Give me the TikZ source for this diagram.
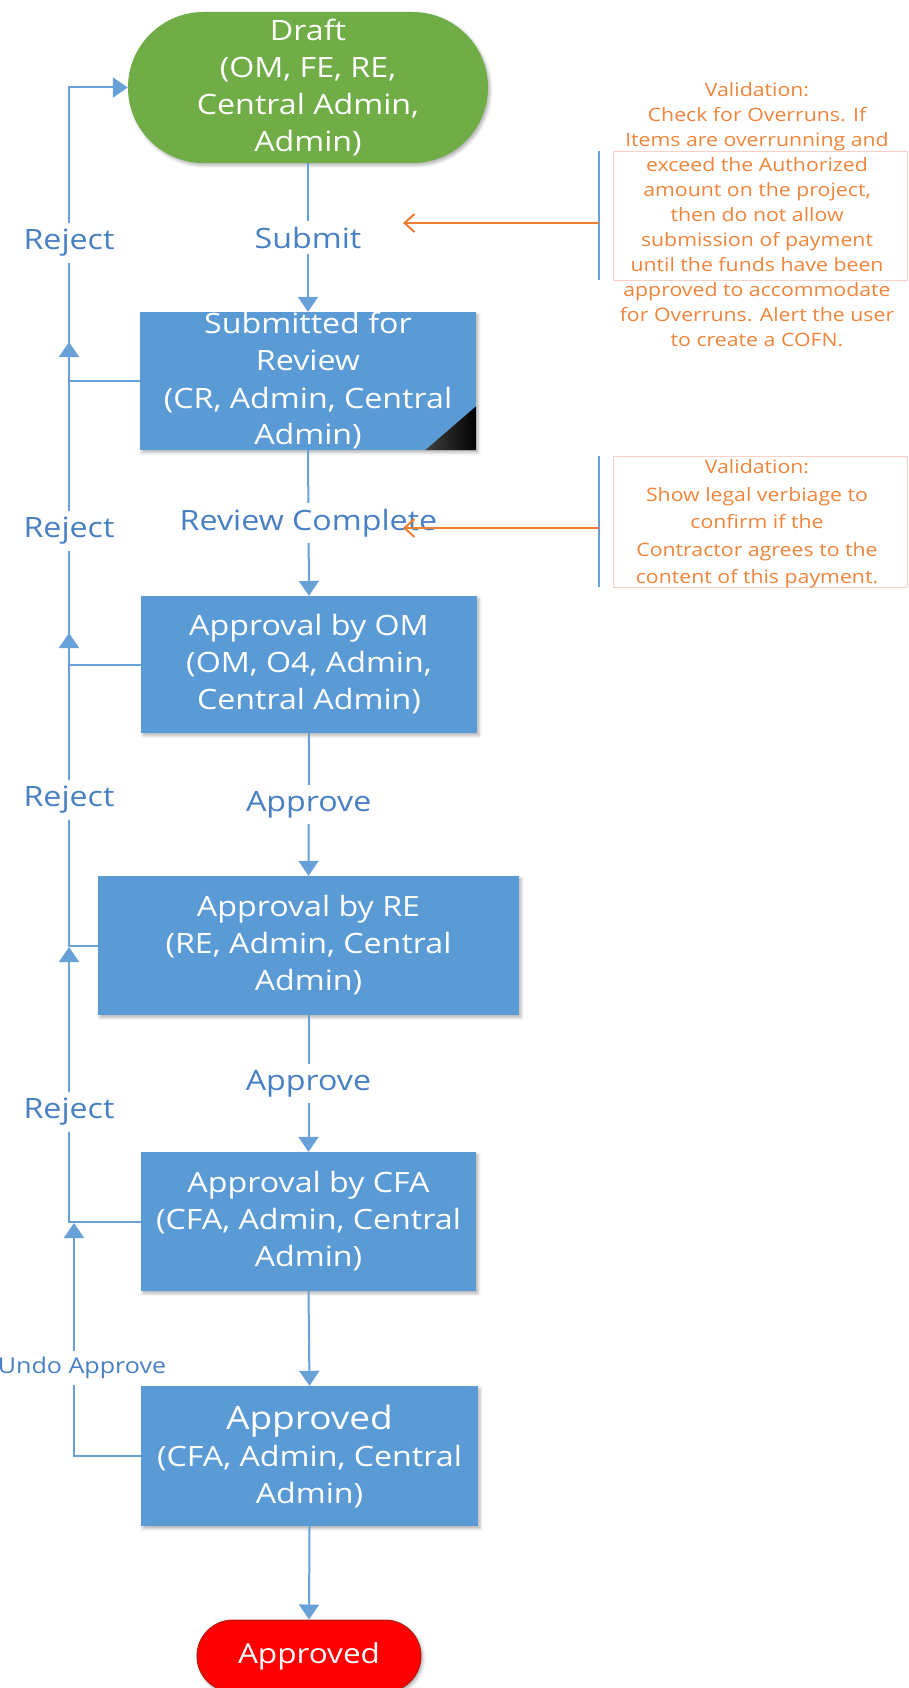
\documentclass[tikz,border=0pt]{standalone}
\usepackage{fontspec}
\setmainfont{Open Sans}[FakeStretch=1.15]
\usetikzlibrary{arrows.meta,shapes.misc,shadows.blur}

\definecolor{boxblue}{RGB}{91,155,213}
\definecolor{wireblue}{RGB}{104,160,216}
\definecolor{tagblue}{RGB}{72,128,196}
\definecolor{draftgreen}{RGB}{112,173,71}
\definecolor{endred}{RGB}{255,0,0}
\definecolor{endredrim}{RGB}{170,30,20}
\definecolor{noteorange}{RGB}{237,125,49}
\definecolor{notetext}{RGB}{240,132,58}
\definecolor{notepink}{RGB}{248,208,200}

\tikzset{
  softshadow/.style={blur shadow={shadow xshift=2pt, shadow yshift=-2.5pt,
      shadow blur radius=3pt, shadow opacity=30}},
  stepbox/.style={rectangle, fill=boxblue, text=white, align=center,
      inner sep=0pt, minimum height=138pt, softshadow,
      font=\fontsize{28}{37}\selectfont},
  terminal/.style={rounded rectangle, align=center, inner sep=0pt,
      text=white, softshadow},
  flow/.style={draw=wireblue, line width=2pt,
      -{Triangle[length=15pt,width=20pt]}},
  tag/.style={fill=white, text=tagblue, inner xsep=3pt, inner ysep=6pt,
      font=\fontsize{28}{30}\selectfont},
  undotag/.style={font=\fontsize{21.8}{24}\selectfont, xshift=8pt},
  hint/.style={draw=noteorange, line width=2pt,
      -{Straight Barb[length=10pt,width=18pt]}},
  barline/.style={draw=wireblue, line width=2pt},
  noteframe/.style={draw=notepink, line width=0.8pt, inner sep=0pt},
  notetxt/.style={text=notetext, align=center, inner sep=0pt},
}

\begin{document}
\begin{tikzpicture}[x=1pt,y=-1pt]
\useasboundingbox (0,0) rectangle (908,1688);
\clip (0,0) rectangle (908,1688);

% --- states of the payment workflow ---
\node[terminal, fill=draftgreen, minimum width=360pt, minimum height=151pt,
      font=\fontsize{28}{37}\selectfont] (draft) at (308,87.5)
  {Draft\\(OM, FE, RE,\\Central Admin,\\Admin)};

\node[stepbox, minimum width=336pt] (submitted) at (308,381)
  {Submitted for\\Review\\(CR, Admin, Central\\Admin)};
\shade[left color=black!75, right color=black]
  (submitted.south east) -- ++(-51,0) -- ++(51,-44) -- cycle;

\node[stepbox, minimum width=336pt, minimum height=137pt] (omappr) at (309,664.5)
  {Approval by OM\\(OM, O4, Admin,\\Central Admin)};

\node[stepbox, minimum width=421pt, minimum height=139pt] (reappr) at (308.5,945.5)
  {Approval by RE\\(RE, Admin, Central\\Admin)};

\node[stepbox, minimum width=335pt, minimum height=139pt] (cfaappr) at (308.5,1221.5)
  {Approval by CFA\\(CFA, Admin, Central\\Admin)};

\node[stepbox, minimum width=337pt, minimum height=140pt] (approved) at (309.5,1456)
  {{\fontsize{32.2}{42}\selectfont Approved}\\(CFA, Admin, Central\\Admin)};

\node[terminal, fill=endred, draw=endredrim, line width=1pt,
      minimum width=224pt, minimum height=72pt,
      font=\fontsize{27.4}{30}\selectfont] (done) at (309,1656) {Approved};

% --- forward transitions ---
\draw[flow] (draft.south) -- node[tag]{Submit} (submitted.north);
\draw[flow] (submitted.south) -- node[tag]{Review Complete} (omappr.north);
\draw[flow] (omappr.south) -- node[tag]{Approve} (reappr.north);
\draw[flow] (reappr.south) -- node[tag]{Approve} (cfaappr.north);
\draw[flow] (cfaappr.south) -- (approved.north);
\draw[flow] (approved.south) -- (done.north);

% --- rejection rail on the left ---
\coordinate (rail) at (69,0);
\coordinate (undorail) at (74,0);
\coordinate (rj2) at (69,342);
\coordinate (rj3) at (69,633);
\coordinate (rj4) at (69,947);
\coordinate (undoend) at (74,1223);

\draw[flow] (submitted.west) -- (submitted.west -| rail)
  -- node[tag, pos=0.47]{Reject} (rail |- draft.west) -- (draft.west);
\draw[flow] (omappr.west) -- (omappr.west -| rail)
  -- node[tag, pos=0.414]{Reject} (rj2);
\draw[flow] (reappr.west) -- (reappr.west -| rail)
  -- node[tag, pos=0.466]{Reject} (rj3);
\draw[flow] (cfaappr.west) -- (cfaappr.west -| rail)
  -- node[tag, pos=0.399]{Reject} (rj4);
\draw[flow] (approved.west) -- (approved.west -| undorail)
  -- node[tag, undotag, pos=0.378]{Undo Approve} (undoend);

% --- validation notes ---
\node[noteframe, minimum width=294pt, minimum height=129pt] (frame1) at (760,215.5) {};
\node[noteframe, minimum width=294pt, minimum height=131pt] (frame2) at (760,521.5) {};

\node[notetxt, font=\fontsize{18.5}{25}\selectfont] (note1) at (757,215)
  {Validation:\\Check for Overruns. If\\Items are overrunning and\\exceed the Authorized\\%
   amount on the project,\\then do not allow\\submission of payment\\%
   until the funds have been\\approved to accommodate\\for Overruns. Alert the user\\%
   to create a COFN.};
\node[notetxt, font=\fontsize{18.5}{27.5}\selectfont] (note2) at (757,524)
  {Validation:\\Show legal verbiage to\\confirm if the\\Contractor agrees to the\\%
   content of this payment.};

\coordinate (n1src) at (599,223);
\coordinate (n1tip) at (403,223);
\coordinate (n2src) at (599,528);
\coordinate (n2tip) at (403,528);

\draw[barline] (frame1.north west -| n1src) -- (frame1.south west -| n1src);
\draw[barline] (frame2.north west -| n2src) -- (frame2.south west -| n2src);
\draw[hint] (n1src) -- (n1tip);
\draw[hint] (n2src) -- (n2tip);
\end{tikzpicture}
\end{document}
